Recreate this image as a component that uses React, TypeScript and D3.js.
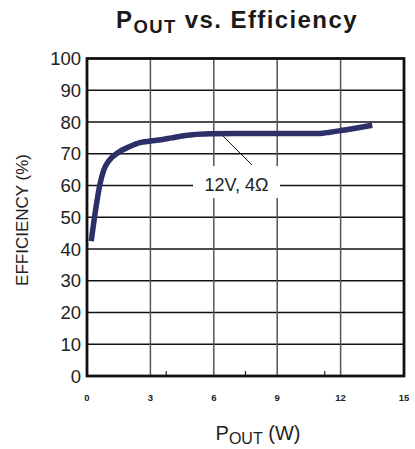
import React from "react";
import * as d3 from "d3";

const powerW = [0.2, 0.4, 0.6, 0.8, 1.0, 1.5, 2.0, 2.5, 3.0, 3.5, 4.0, 4.5, 5.0, 6.0, 7.0, 11.0, 11.5, 12.0, 13.5];
const efficiency = [42.5, 52, 60, 65, 67.5, 70.5, 72.2, 73.5, 74, 74.4, 75, 75.6, 76, 76.3, 76.4, 76.4, 76.8, 77.3, 79];
const xTicks = [0, 3, 6, 9, 12, 15];
const xMinorTicks = [3.75, 7.5, 11.25];
const yTicks = [0, 10, 20, 30, 40, 50, 60, 70, 80, 90, 100];
const seriesLabel = "12V, 4Ω";

export default function App() {
  const x = d3.scaleLinear().domain([0, 15]).range([87, 404]);
  const y = d3.scaleLinear().domain([0, 100]).range([376, 58.5]);
  const pts: [number, number][] = powerW.map((p, i) => [p, efficiency[i]]);
  const line = d3
    .line<[number, number]>()
    .x((d) => x(d[0]))
    .y((d) => y(d[1]))
    .curve(d3.curveMonotoneX);

  const font = "'Liberation Sans', Arial, sans-serif";
  return (
    <svg
      width={415}
      height={449}
      style={{ position: "absolute", left: 0, top: 0, background: "#fff" }}
      fontFamily={font}
    >
      {/* title */}
      <text x={237} y={28} textAnchor="middle" fontWeight="bold" fontSize={24} fill="#1a1a1a" letterSpacing={1.4}>
        <tspan>P</tspan>
        <tspan fontSize={18.5} dy={5}>OUT</tspan>
        <tspan dy={-5}> vs. Efficiency</tspan>
      </text>

      {/* horizontal grid */}
      {yTicks.filter((t) => t > 0 && t < 100).map((t) => (
        <line key={"h" + t} x1={x(0)} x2={x(15)} y1={y(t)} y2={y(t)} stroke="#111" strokeWidth={1.3} />
      ))}
      {/* vertical grid */}
      {xTicks.filter((t) => t > 0 && t < 15).map((t) => (
        <line key={"v" + t} x1={x(t)} x2={x(t)} y1={y(100)} y2={y(0)} stroke="#555" strokeWidth={1.5} />
      ))}
      {/* minor ticks */}
      {xMinorTicks.map((t) => (
        <line key={"m" + t} x1={x(t)} x2={x(t)} y1={y(0)} y2={y(0) - 5} stroke="#222" strokeWidth={1.2} />
      ))}

      {/* label box */}
      <rect x={193} y={166} width={87} height={32} fill="#fff" />
      <line x1={220} y1={133} x2={252} y2={165} stroke="#111" strokeWidth={1} />
      <text x={236.5} y={191} textAnchor="middle" fontSize={18} fill="#222">
        {seriesLabel}
      </text>

      {/* frame */}
      <rect x={x(0)} y={y(100)} width={x(15) - x(0)} height={y(0) - y(100)} fill="none" stroke="#111" strokeWidth={2.8} />

      {/* curve */}
      <path d={line(pts) || ""} fill="none" stroke="#2d2f68" strokeWidth={5.5} strokeLinejoin="round" />

      {/* y tick labels */}
      {yTicks.map((t) => (
        <text key={"yl" + t} x={81} y={y(t) + 6.5} textAnchor="end" fontSize={18.5} fill="#222">
          {t}
        </text>
      ))}
      {/* x tick labels */}
      {xTicks.map((t) => (
        <text
          key={"xl" + t}
          x={x(t)}
          y={401}
          textAnchor="middle"
          fontSize={9.5}
          fontWeight="bold"
          fill="#222"
          fontFamily="'Liberation Sans Narrow', 'Liberation Sans', Arial, sans-serif"
        >
          {t}
        </text>
      ))}

      {/* axis titles */}
      <text x={258} y={440} textAnchor="middle" fontSize={20} fill="#222">
        <tspan>P</tspan>
        <tspan fontSize={16} dy={4}>OUT</tspan>
        <tspan dy={-4}> (W)</tspan>
      </text>
      <text
        transform="translate(28,220) rotate(-90)"
        textAnchor="middle"
        fontSize={17}
        fill="#222"
      >
        EFFICIENCY (%)
      </text>
    </svg>
  );
}
